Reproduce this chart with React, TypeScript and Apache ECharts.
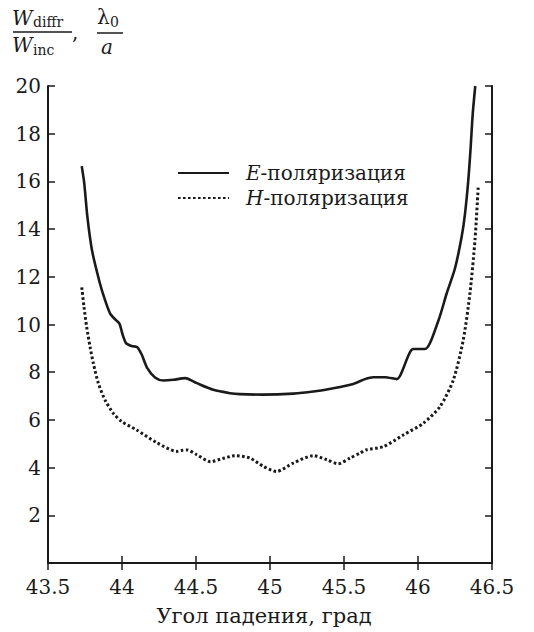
import React, { useEffect, useRef } from "react";
import * as echarts from "echarts";

const xTicks = { min: 43.5, max: 46.5, step: 0.5 };
const yTicks = { min: 0, max: 20, step: 2 };

const eAngles = [43.728, 43.745, 43.766, 43.797, 43.851, 43.885, 43.919, 43.953, 43.982, 44.005, 44.027, 44.065, 44.103, 44.133, 44.171, 44.223, 44.279, 44.347, 44.426, 44.505, 44.617, 44.73, 44.797, 44.95, 45.157, 45.293, 45.428, 45.563, 45.642, 45.698, 45.777, 45.856, 45.968, 46.047, 46.137, 46.194, 46.25, 46.295, 46.318, 46.34, 46.356, 46.37, 46.387];
const eValues = [16.64, 15.92, 14.52, 13.12, 11.72, 11.03, 10.47, 10.22, 10.05, 9.56, 9.22, 9.1, 9.05, 8.74, 8.17, 7.78, 7.65, 7.68, 7.75, 7.54, 7.26, 7.12, 7.08, 7.06, 7.1, 7.19, 7.33, 7.51, 7.71, 7.79, 7.79, 7.71, 8.97, 8.97, 10.15, 11.31, 12.36, 13.68, 14.66, 16.06, 17.45, 18.85, 20.0];

const hAngles = [43.728, 43.743, 43.761, 43.784, 43.806, 43.84, 43.885, 43.941, 43.998, 44.099, 44.234, 44.37, 44.4, 44.44, 44.505, 44.598, 44.68, 44.764, 44.865, 44.955, 45.045, 45.157, 45.293, 45.383, 45.461, 45.541, 45.608, 45.653, 45.766, 45.901, 46.036, 46.149, 46.239, 46.306, 46.351, 46.385, 46.407];
const hValues = [11.56, 10.75, 9.91, 9.07, 8.38, 7.54, 6.84, 6.28, 5.93, 5.58, 5.05, 4.68, 4.72, 4.74, 4.54, 4.25, 4.38, 4.5, 4.4, 4.05, 3.84, 4.19, 4.5, 4.33, 4.16, 4.4, 4.61, 4.75, 4.88, 5.37, 5.86, 6.56, 7.68, 9.36, 11.31, 13.54, 15.78];

const seriesNames = ["E-поляризация", "H-поляризация"];
const xTitle = "Угол падения, град";

const FONT = "DejaVu Serif";
const FS = 20;
const INK = "#1a1a1a";

export default function App() {
  const ref = useRef<HTMLDivElement>(null);
  useEffect(() => {
    document.body.style.margin = "0";
    if (!ref.current) return;
    const chart = echarts.init(ref.current, undefined, { renderer: "svg" });
    const axisCommon = {
      axisLine: { show: true, lineStyle: { color: INK, width: 2 } },
      axisTick: { show: true, inside: true, length: 7, lineStyle: { color: INK, width: 1.5 } },
      splitLine: { show: false },
    };
    const xBase = { type: "value", min: xTicks.min, max: xTicks.max, interval: xTicks.step, ...axisCommon };
    const yBase = { type: "value", min: yTicks.min, max: yTicks.max, interval: yTicks.step, ...axisCommon };
    const txt = (text: string, left: number, top: number, size: number, italic = false) => ({
      type: "text",
      left,
      top,
      style: { text, fontFamily: FONT, fontSize: size, fontStyle: italic ? "italic" : "normal", fill: INK },
    });
    const option = {
      animation: false,
      backgroundColor: "#fff",
      textStyle: { fontFamily: FONT, color: INK },
      grid: { left: 48, right: 42, top: 86, bottom: 69, containLabel: false },
      legend: {
        orient: "vertical",
        left: 177,
        top: 160.5,
        padding: 0,
        itemGap: 0,
        itemWidth: 51,
        itemHeight: 14,
        data: seriesNames,
        itemStyle: { opacity: 0 },
        formatter: (n: string) => `{sp|}{i|${n.charAt(0)}}${n.slice(1)}`,
        textStyle: {
          fontFamily: FONT,
          fontSize: FS,
          color: INK,
          lineHeight: 25,
          rich: {
            sp: { width: 12 },
            i: { fontStyle: "italic", fontFamily: FONT, fontSize: FS, color: INK },
          },
        },
      },
      xAxis: [
        {
          ...xBase,
          position: "bottom",
          axisLabel: { show: true, fontFamily: FONT, fontSize: FS, color: INK, margin: 14 },
          name: xTitle,
          nameLocation: "middle",
          nameGap: 42,
          nameTextStyle: { fontFamily: FONT, fontSize: 21, color: INK, padding: [0, 12, 0, 0] },
        },
        { ...xBase, position: "top", axisLabel: { show: false } },
      ],
      yAxis: [
        {
          ...yBase,
          position: "left",
          axisLabel: {
            show: true,
            fontFamily: FONT,
            fontSize: FS,
            color: INK,
            margin: 7,
            formatter: (v: number) => (v === 0 ? "" : String(v)),
          },
        },
        { ...yBase, position: "right", axisLabel: { show: false } },
      ],
      series: [
        {
          name: seriesNames[0],
          type: "line",
          xAxisIndex: 0,
          yAxisIndex: 0,
          symbol: "none",
          smooth: 0.25,
          data: eAngles.map((a, i) => [a, eValues[i]]),
          lineStyle: { color: INK, width: 2.6, type: "solid" },
          itemStyle: { color: INK },
        },
        {
          name: seriesNames[1],
          type: "line",
          xAxisIndex: 0,
          yAxisIndex: 0,
          symbol: "none",
          smooth: 0.25,
          data: hAngles.map((a, i) => [a, hValues[i]]),
          lineStyle: { color: INK, width: 3, type: [2.6, 2.4] },
          itemStyle: { color: INK },
        },
      ],
      graphic: [
        txt("W", 12, 8, 20, true),
        txt("diffr", 33, 15, 14),
        { type: "line", shape: { x1: 13, y1: 32, x2: 72, y2: 32 }, style: { stroke: INK, lineWidth: 1.5 } },
        txt("W", 12, 35, 20, true),
        txt("inc", 33, 43, 14),
        txt(",", 72, 22, 20),
        txt("λ", 97, 7, 20),
        txt("0", 110, 15, 14),
        { type: "line", shape: { x1: 97, y1: 33, x2: 123, y2: 33 }, style: { stroke: INK, lineWidth: 1.5 } },
        txt("a", 101, 37, 20, true),
      ],
    };
    chart.setOption(option as any);
    return () => chart.dispose();
  }, []);
  return <div ref={ref} style={{ width: 534, height: 632 }} />;
}
